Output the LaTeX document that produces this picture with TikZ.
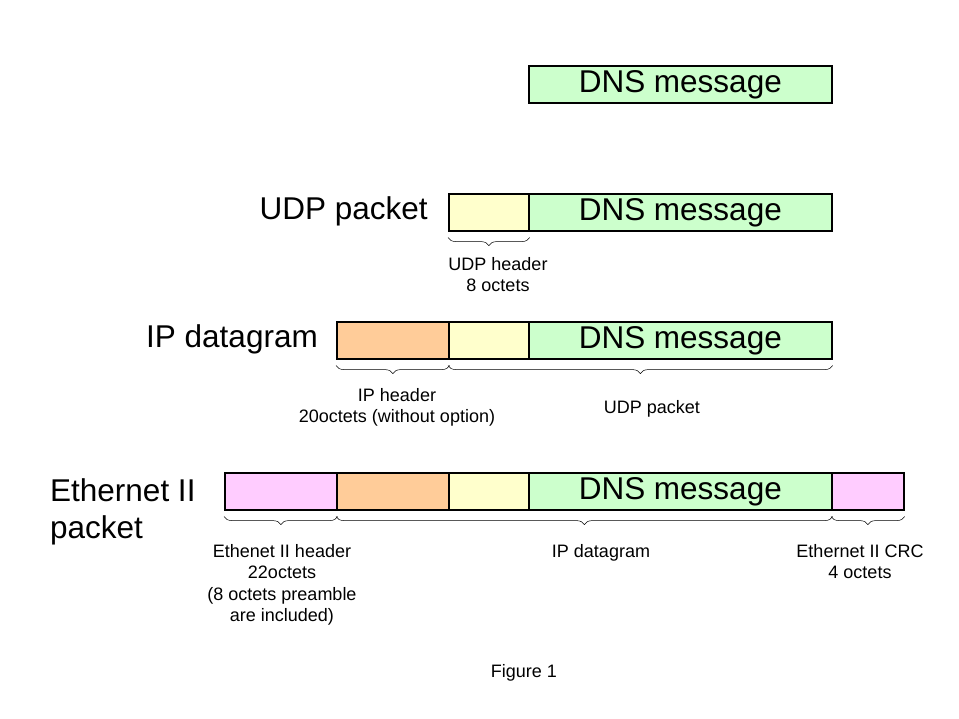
\documentclass[tikz,border=0pt]{standalone}
\usepackage{fontspec}
\setmainfont{Liberation Sans}
\usetikzlibrary{decorations.pathreplacing}
\definecolor{cyel}{HTML}{FFFFCC}
\definecolor{cgrn}{HTML}{CCFFCC}
\definecolor{corg}{HTML}{FFCC99}
\definecolor{cpnk}{HTML}{FFCCFF}
\begin{document}
\begin{tikzpicture}[x=1pt,y=-1pt,
  seg/.style={draw=black,line width=1.6pt,anchor=north west,inner sep=0pt,minimum height=37pt,
     text height=17pt,text depth=0pt,font=\fontsize{31.5}{36}\selectfont},
  big/.style={font=\fontsize{31.5}{36}\selectfont,inner sep=0pt},
  small/.style={font=\fontsize{18}{21.5}\selectfont,inner sep=0pt,align=center},
  brc/.style={draw=black,line width=0.5pt,decoration={brace,mirror,amplitude=8pt},decorate}]
\fill[white] (0,0) rectangle (959,719);
\useasboundingbox (0,0) rectangle (959,719);
% row 1
\node[seg,fill=cgrn,minimum width=303pt] (d1) at (528,65) {DNS message};
% row 2
\node[seg,fill=cyel,minimum width=80pt] (u2) at (448,193) {};
\node[seg,fill=cgrn,minimum width=303pt] (d2) at (528,193) {DNS message};
\node[big,anchor=east] (l2) at (428,211) {UDP packet};
\draw[brc] ([yshift=-6pt]u2.south west) -- ([yshift=-6pt]u2.south east);
\node[small,anchor=north] (t2) at (498,257) {UDP header\\8 octets};
% row 3
\node[seg,fill=corg,minimum width=112pt] (i3) at (336,321) {};
\node[seg,fill=cyel,minimum width=80pt] (u3) at (448,321) {};
\node[seg,fill=cgrn,minimum width=303pt] (d3) at (528,321) {DNS message};
\node[big,anchor=east] (l3) at (318,339) {IP datagram};
\draw[brc] ([yshift=-6pt]i3.south west) -- ([yshift=-6pt]i3.south east);
\draw[brc] ([yshift=-6pt]u3.south west) -- ([yshift=-6pt]d3.south east);
\node[small,anchor=north] (t3a) at (397,388) {IP header\\20octets (without option)};
\node[small,anchor=north] (t3b) at (652,400) {UDP packet};
% row 4
\node[seg,fill=cpnk,minimum width=112pt] (e4) at (224,472) {};
\node[seg,fill=corg,minimum width=112pt] (i4) at (336,472) {};
\node[seg,fill=cyel,minimum width=80pt] (u4) at (448,472) {};
\node[seg,fill=cgrn,minimum width=303pt] (d4) at (528,472) {DNS message};
\node[seg,fill=cpnk,minimum width=72pt] (c4) at (831,472) {};
\node[big,anchor=north west,align=left,font=\fontsize{31.5}{37}\selectfont] (l4) at (50,478) {Ethernet II\\packet};
\draw[brc] ([yshift=-6pt]e4.south west) -- ([yshift=-6pt]e4.south east);
\draw[brc] ([yshift=-6pt]i4.south west) -- ([yshift=-6pt]d4.south east);
\draw[brc] ([yshift=-6pt]c4.south west) -- ([yshift=-6pt]c4.south east);
\node[small,anchor=north] (t4a) at (282,544) {Ethenet II header\\22octets\\(8 octets preamble\\are included)};
\node[small,anchor=north] (t4b) at (601,544) {IP datagram};
\node[small,anchor=north] (t4c) at (860,544) {Ethernet II CRC\\4 octets};
\node[small,anchor=north] (fig) at (524,664) {Figure 1};
\end{tikzpicture}
\end{document}
